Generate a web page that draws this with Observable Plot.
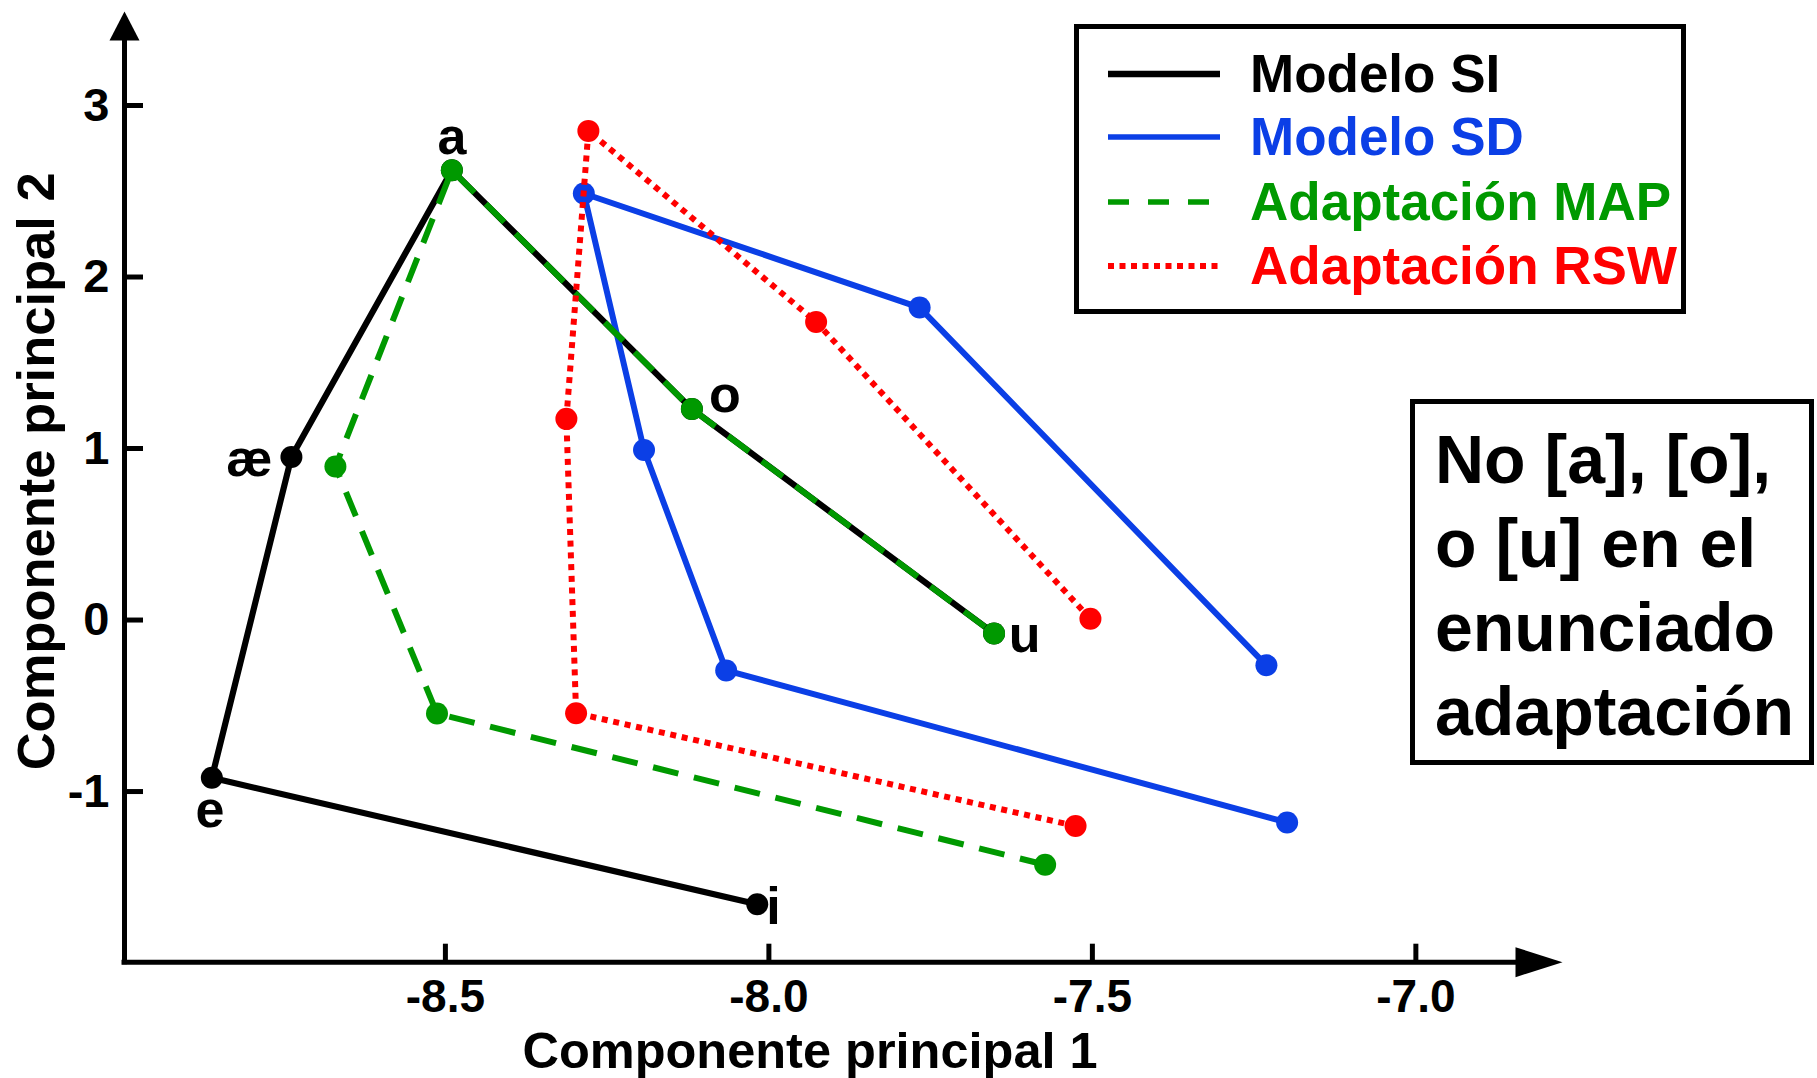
<!DOCTYPE html>
<html>
<head>
<meta charset="utf-8">
<script src="https://cdn.jsdelivr.net/npm/d3@7"></script>
<script src="https://cdn.jsdelivr.net/npm/@observablehq/plot@0.6"></script>
<style>
  html, body { margin: 0; padding: 0; background: #fff; }
  #wrap { position: relative; width: 1817px; height: 1078px; overflow: hidden;
          font-family: "Liberation Sans", Arial, sans-serif; font-weight: bold; background: #fff; }
  #chart { position: absolute; left: 0; top: 0; }
  #legend { position: absolute; left: 1074px; top: 24px; width: 602px; height: 280px;
            border: 5px solid #000; background: #fff; }
  .lrow { position: absolute; left: 0; height: 64px; line-height: 64px; font-size: 53px; white-space: nowrap; }
  .lrow svg { position: absolute; left: 29px; top: 22px; }
  .lrow span { position: absolute; left: 171px; top: 0; }
  #note { position: absolute; left: 1410px; top: 399px; width: 394px; height: 356px;
          border: 5px solid #000; background: #fff; box-sizing: content-box; }
  #note div { position: absolute; left: 20px; top: 13px; font-size: 68px; line-height: 84px; white-space: nowrap; }
</style>
</head>
<body>
<div id="wrap">
  <div id="chart"></div>
  <div id="legend"></div>
  <div id="note"><div></div></div>
</div>
<script>
// ---------- data ----------
const vowels = ["i", "e", "æ", "a", "o", "u"];

// Modelo SI (black)
const siX = [-8.018, -8.861, -8.738, -8.490, -8.119, -7.652];
const siY = [-1.657, -0.920, 0.951, 2.623, 1.230, -0.079];

// Modelo SD (blue)
const sdX = [-7.199, -8.066, -8.193, -8.286, -7.767, -7.231];
const sdY = [-1.180, -0.294, 0.991, 2.487, 1.822, -0.264];

// Adaptación MAP (green)
const mapX = [-7.573, -8.513, -8.670, -8.490, -8.119, -7.652];
const mapY = [-1.427, -0.545, 0.895, 2.623, 1.230, -0.079];

// Adaptación RSW (red)
const rswX = [-7.526, -8.298, -8.313, -8.279, -7.927, -7.503];
const rswY = [-1.201, -0.543, 1.173, 2.852, 1.738, 0.007];

const seriesNames = ["Modelo SI", "Modelo SD", "Adaptación MAP", "Adaptación RSW"];

const xTicks = [-8.5, -8.0, -7.5, -7.0];
const xTickLabels = ["-8.5", "-8.0", "-7.5", "-7.0"];
const yTicks = [-1, 0, 1, 2, 3];
const yTickLabels = ["-1", "0", "1", "2", "3"];
const xDomain = [-8.996, -6.846];
const yDomain = [-1.995, 3.379];

const xTitle = "Componente principal 1";
const yTitle = "Componente principal 2";
const noteLines = ["No [a], [o],", "o [u] en el", "enunciado", "adaptación"];

// ---------- drawing ----------
const W = 1817, H = 1078, ML = 124, MR = 302, MT = 40, MB = 116.3;
const innerW = W - ML - MR, innerH = H - MT - MB;

const rows = (X, Y) => X.map((x, i) => ({x, y: Y[i], v: vowels[i]}));
const series = [
  {data: rows(siX, siY),   stroke: "#000000", width: 6.2, dash: null},
  {data: rows(sdX, sdY),   stroke: "#0b3fe6", width: 6,   dash: null},
  {data: rows(mapX, mapY), stroke: "#009900", width: 6,   dash: "26,16"},
  {data: rows(rswX, rswY), stroke: "#ff0000", width: 6,   dash: "6,5.7"}
];

const arrowRight = {draw(c) { c.moveTo(0, -15); c.lineTo(47, 0); c.lineTo(0, 15); c.closePath(); }};
const arrowUp = {draw(c) { c.moveTo(-15, 0); c.lineTo(0, -29); c.lineTo(15, 0); c.closePath(); }};

const labelStyle = {
  "a": {dx: 0, dy: -32.5, textAnchor: "middle"},
  "æ": {dx: -19, dy: 2, textAnchor: "end"},
  "e": {dx: -2, dy: 33, textAnchor: "middle"},
  "i": {dx: 9, dy: 3, textAnchor: "start"},
  "o": {dx: 17, dy: -13.4, textAnchor: "start"},
  "u": {dx: 14.6, dy: 1.6, textAnchor: "start"}
};

const marks = [
  Plot.ruleX([xDomain[0]], {stroke: "#000", strokeWidth: 5, strokeLinecap: "square"}),
  Plot.ruleY([yDomain[0]], {stroke: "#000", strokeWidth: 5, strokeLinecap: "square"}),
  Plot.dot([[xDomain[1], yDomain[0]]], {x: d => d[0], y: d => d[1], symbol: arrowRight, fill: "#000", stroke: "none"}),
  Plot.dot([[xDomain[0], yDomain[1]]], {x: d => d[0], y: d => d[1], symbol: arrowUp, fill: "#000", stroke: "none"}),
  Plot.tickX(xTicks, {x: d => d, insetTop: innerH - 18, stroke: "#000", strokeWidth: 5}),
  Plot.tickY(yTicks, {y: d => d, insetRight: innerW - 19, stroke: "#000", strokeWidth: 5}),
  Plot.axisX(xTicks, {anchor: "bottom", tickSize: 0, tickPadding: 17, label: null,
    tickFormat: d => xTickLabels[xTicks.indexOf(d)], fontSize: 46, fontWeight: "bold", fill: "#000"}),
  Plot.axisY(yTicks, {anchor: "left", tickSize: 0, tickPadding: 15, label: null,
    tickFormat: d => yTickLabels[yTicks.indexOf(d)], fontSize: 47, fontWeight: "bold", fill: "#000"}),
  Plot.text([xTitle], {frameAnchor: "bottom", text: d => d, lineAnchor: "top", textAnchor: "middle",
    dx: -10, dy: 69.5, fontSize: 50.5, fontWeight: "bold", fill: "#000"}),
  Plot.text([yTitle], {frameAnchor: "left", text: d => d, rotate: -90, lineAnchor: "middle", textAnchor: "middle",
    dx: -87.6, dy: -30, fontSize: 52.5, fontWeight: "bold", fill: "#000"})
];

for (const s of series) {
  marks.push(Plot.line(s.data, {x: "x", y: "y", stroke: s.stroke, strokeWidth: s.width,
    strokeDasharray: s.dash, strokeLinecap: "butt", strokeLinejoin: "round"}));
  marks.push(Plot.dot(s.data, {x: "x", y: "y", r: 11, fill: s.stroke, stroke: "none"}));
}

const siRows = series[0].data;
for (const d of siRows) {
  const st = labelStyle[d.v];
  marks.push(Plot.text([d], {x: "x", y: "y", text: "v", lineAnchor: "middle",
    textAnchor: st.textAnchor, dx: st.dx, dy: st.dy, fontSize: 52, fontWeight: "bold", fill: "#000"}));
}

const chart = Plot.plot({
  width: W, height: H,
  marginLeft: ML, marginRight: MR, marginTop: MT, marginBottom: MB,
  x: {domain: xDomain},
  y: {domain: yDomain},
  style: {fontFamily: '"Liberation Sans", Arial, sans-serif', fontWeight: "bold", background: "#fff", overflow: "visible", color: "#000"},
  marks
});
document.getElementById("chart").appendChild(chart);

// ---------- legend ----------
const legend = document.getElementById("legend");
const rowCenters = [44.6, 107.8, 172.5, 237];
const legendDash = [null, null, "21,19", "6,5.5"];
series.forEach((s, i) => {
  const row = document.createElement("div");
  row.className = "lrow";
  row.style.top = (rowCenters[i] - 32) + "px";
  const dash = legendDash[i] ? ` stroke-dasharray="${legendDash[i]}"` : "";
  row.innerHTML = `<svg width="112" height="20"><line x1="0" x2="112" y1="10" y2="10" stroke="${s.stroke}" stroke-width="${i === 0 ? 6.5 : i === 3 ? 6 : 5.5}"${dash}/></svg><span style="color:${s.stroke}">${seriesNames[i]}</span>`;
  legend.appendChild(row);
});

// ---------- note box ----------
document.querySelector("#note div").innerHTML = noteLines.join("<br>");
</script>
</body>
</html>
